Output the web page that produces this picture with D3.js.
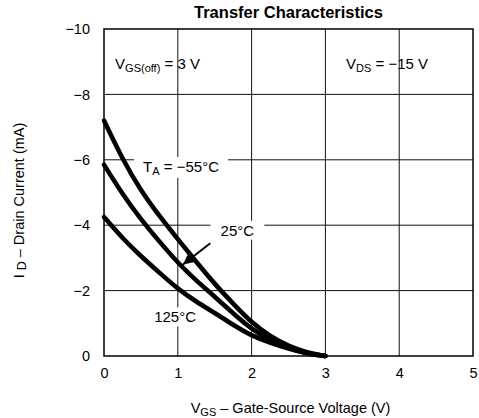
<!DOCTYPE html>
<html>
<head>
<meta charset="utf-8">
<script src="https://cdn.jsdelivr.net/npm/d3@7"></script>
<style>
  html, body { margin: 0; padding: 0; background: #fff; }
  svg { display: block; font-family: "Liberation Sans", Arial, Helvetica, sans-serif; }
</style>
</head>
<body>
<svg id="chart" width="479" height="418"></svg>
<script>
// ---- Data ----
const vgs = [0, 0.25, 0.5, 0.75, 1, 1.25, 1.5, 1.75, 2, 2.25, 2.5, 2.75, 3];
const idMinus55 = [-7.2, -6.02, -5.05, -4.28, -3.57, -2.88, -2.2, -1.6, -1.02, -0.6, -0.3, -0.1, 0];
const id25      = [-5.85, -4.95, -4.18, -3.5, -2.85, -2.3, -1.82, -1.3, -0.82, -0.48, -0.24, -0.07, 0];
const id125     = [-4.25, -3.6, -3.05, -2.55, -2.05, -1.66, -1.32, -0.95, -0.62, -0.4, -0.22, -0.07, 0];
const xTicks = [0, 1, 2, 3, 4, 5];
const yTicks = [0, -2, -4, -6, -8, -10];
const xTickLabels = ["0", "1", "2", "3", "4", "5"];
const yTickLabels = ["0", "\u22122", "\u22124", "\u22126", "\u22128", "\u221210"];

// ---- Layout ----
const svg = d3.select("#chart");
const pL = 104, pR = 473, pT = 29, pB = 356;
const x = d3.scaleLinear().domain([0, 5]).range([pL, pR]);
const y = d3.scaleLinear().domain([0, -10]).range([pB, pT]);
const FS = 15;

// Grid
const grid = svg.append("g").attr("stroke", "#111").attr("stroke-width", 1);
grid.selectAll("line.v").data(xTicks.slice(1, -1)).join("line").attr("class", "v")
  .attr("x1", d => x(d)).attr("x2", d => x(d)).attr("y1", pT).attr("y2", pB);
grid.selectAll("line.h").data(yTicks.slice(1, -1)).join("line").attr("class", "h")
  .attr("y1", d => y(d)).attr("y2", d => y(d)).attr("x1", pL).attr("x2", pR);

// Frame
svg.append("rect").attr("x", pL).attr("y", pT)
  .attr("width", pR - pL).attr("height", pB - pT)
  .attr("fill", "none").attr("stroke", "#000").attr("stroke-width", 1.5);

// Axes (labels only)
const xAxis = svg.append("g").attr("transform", `translate(0,${pB})`)
  .call(d3.axisBottom(x).tickValues(xTicks).tickSize(0).tickPadding(12)
    .tickFormat((d, i) => xTickLabels[i]));
const yAxis = svg.append("g").attr("transform", `translate(${pL},0)`)
  .call(d3.axisLeft(y).tickValues(yTicks).tickSize(0).tickPadding(14)
    .tickFormat((d, i) => yTickLabels[i]));
[xAxis, yAxis].forEach(a => {
  a.select(".domain").remove();
  a.selectAll("text").attr("font-size", 14.5).attr("fill", "#000")
    .attr("font-family", "Liberation Sans, Arial, sans-serif");
});

// Helper: label with optional white box
function label(xv, yv, parts, opts = {}) {
  const g = svg.append("g");
  const t = g.append("text").attr("x", x(xv)).attr("y", y(yv))
    .attr("font-size", FS).attr("fill", "#000")
    .attr("text-anchor", opts.anchor || "start")
    .attr("dominant-baseline", "middle");
  parts.forEach(p => {
    const ts = t.append("tspan").text(p.t);
    if (p.sub) ts.attr("font-size", 11).attr("dy", 4);
    if (p.up) ts.attr("dy", -4);
  });
  if (opts.box) {
    const b = t.node().getBBox();
    g.insert("rect", "text")
      .attr("x", b.x - opts.box[0]).attr("y", b.y - 1)
      .attr("width", b.width + 2 * opts.box[0]).attr("height", b.height + 2)
      .attr("fill", "#fff");
  }
  return g;
}

// Text labels that hide the grid first
label(0.53, -5.75, [{t: "T"}, {t: "A", sub: true}, {t: " = \u221255\u00B0C", up: true}], {box: [9]});
label(1.58, -3.8, [{t: "25\u00B0C"}], {box: [10]});
label(0.68, -1.15, [{t: "125\u00B0C"}], {box: [3]});

// Curves
const line = d3.line().x((d, i) => x(vgs[i])).y(d => y(d)).curve(d3.curveBasis);
[idMinus55, id25, id125].forEach(s => {
  svg.append("path").datum(s).attr("d", line)
    .attr("fill", "none").attr("stroke", "#000").attr("stroke-width", 4.6)
    .attr("stroke-linecap", "round").attr("stroke-linejoin", "round");
});

// Arrow pointing to 25°C curve
const arrowFrom = [1.44, -3.45], arrowTo = [1.07, -2.8];
svg.append("defs").append("marker").attr("id", "ah")
  .attr("viewBox", "0 0 10 10").attr("refX", 10).attr("refY", 5)
  .attr("markerWidth", 6).attr("markerHeight", 6).attr("orient", "auto")
  .attr("markerUnits", "strokeWidth")
  .append("path").attr("d", "M0,0 L10,5 L0,10 Z").attr("fill", "#000");
svg.append("line")
  .attr("x1", x(arrowFrom[0])).attr("y1", y(arrowFrom[1]))
  .attr("x2", x(arrowTo[0])).attr("y2", y(arrowTo[1]))
  .attr("stroke", "#000").attr("stroke-width", 2).attr("marker-end", "url(#ah)");

// Condition labels
label(0.15, -8.9, [{t: "V"}, {t: "GS(off)", sub: true}, {t: " = 3 V", up: true}]);
label(3.28, -8.9, [{t: "V"}, {t: "DS", sub: true}, {t: " = \u221215 V", up: true}]);

// Title
svg.append("text").attr("x", (pL + pR) / 2).attr("y", 18)
  .attr("text-anchor", "middle").attr("font-size", 16.5).attr("font-weight", "bold")
  .text("Transfer Characteristics");

// X axis title
const xt = svg.append("text").attr("x", (pL + pR) / 2 + 2).attr("y", 413)
  .attr("text-anchor", "middle").attr("font-size", 14.5);
xt.append("tspan").text("V");
xt.append("tspan").text("GS").attr("font-size", 11).attr("dy", 3);
xt.append("tspan").text(" \u2013 Gate-Source Voltage (V)").attr("dy", -3);

// Y axis title
const yt = svg.append("text")
  .attr("transform", `translate(24,${(pT + pB) / 2 + 8}) rotate(-90)`)
  .attr("text-anchor", "middle").attr("font-size", 14.5);
yt.append("tspan").text("I ");
yt.append("tspan").text("D").attr("font-size", 12.5).attr("dy", 2);
yt.append("tspan").text(" \u2013 Drain Current (mA)").attr("dy", -2);
</script>
</body>
</html>
